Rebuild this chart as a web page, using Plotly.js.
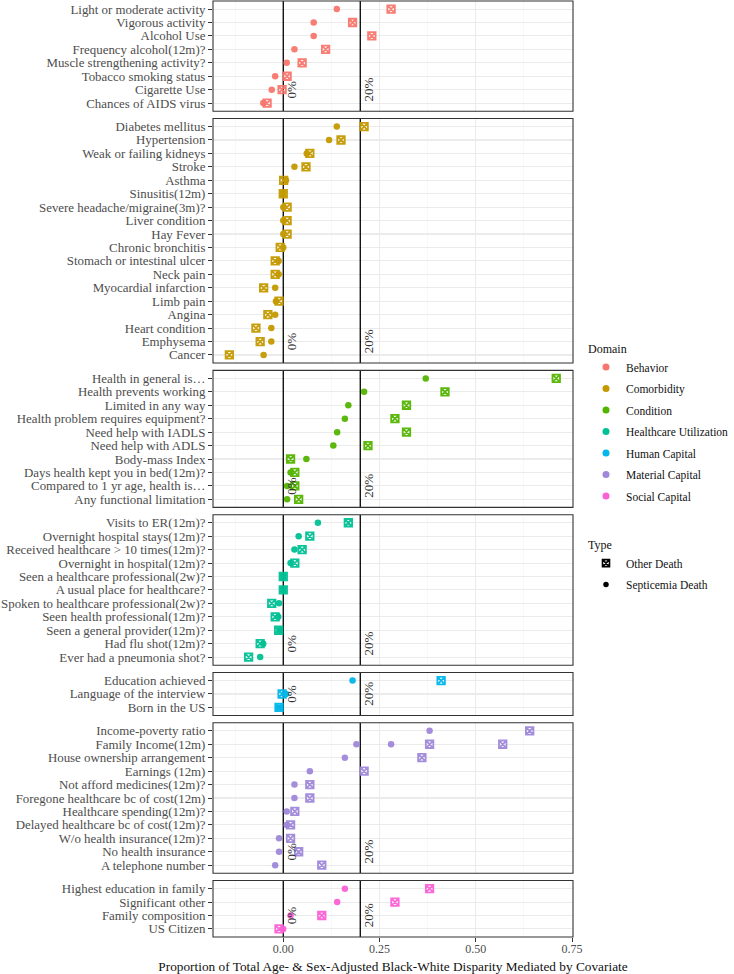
<!DOCTYPE html>
<html><head><meta charset="utf-8">
<script src="https://cdn.plot.ly/plotly-3.0.1.min.js"></script>
<style>html,body{margin:0;padding:0;background:#fff}</style>
</head><body><div id="chart" style="width:734px;height:974px"></div>
<script>
// ---------- data ----------
const domainNames = ['Behavior','Comorbidity','Condition','Healthcare Utilization','Human Capital','Material Capital','Social Capital'];
const domainColors = ['#F8766D','#C49A00','#53B400','#00C094','#00B6EB','#9F88DA','#FB61D7'];
const typeNames = ['Other Death','Septicemia Death'];
const refLines = [0, 0.2];
const refLabels = ['0%', '20%'];
const xTickVals = [0, 0.25, 0.5, 0.75];
const xTickText = ['0.00','0.25','0.50','0.75'];

const behaviorLabels = ['Light or moderate activity','Vigorous activity','Alcohol Use','Frequency alcohol(12m)?','Muscle strengthening activity?','Tobacco smoking status','Cigarette Use','Chances of AIDS virus'];
const behaviorOther = [0.280, 0.180, 0.230, 0.110, 0.049, 0.010, -0.003, -0.042];
const behaviorSepticemia = [0.139, 0.079, 0.079, 0.029, 0.009, -0.021, -0.030, -0.052];

const comorbidityLabels = ['Diabetes mellitus','Hypertension','Weak or failing kidneys','Stroke','Asthma','Sinusitis(12m)','Severe headache/migraine(3m)?','Liver condition','Hay Fever','Chronic bronchitis','Stomach or intestinal ulcer','Neck pain','Myocardial infarction','Limb pain','Angina','Heart condition','Emphysema','Cancer'];
const comorbidityOther = [0.210, 0.150, 0.069, 0.059, 0.001, 0.000, 0.010, 0.010, 0.010, -0.008, -0.021, -0.021, -0.051, -0.011, -0.040, -0.071, -0.060, -0.140];
const comorbiditySepticemia = [0.139, 0.119, 0.061, 0.029, 0.007, -0.001, 0.000, 0.000, 0.000, 0.000, -0.012, -0.012, -0.021, -0.019, -0.021, -0.031, -0.031, -0.051];

const conditionLabels = ['Health in general is…','Health prevents working','Limited in any way','Health problem requires equipment?','Need help with IADLS','Need help with ADLS','Body-mass Index','Days health kept you in bed(12m)?','Compared to 1 yr age, health is…','Any functional limitation'];
const conditionOther = [0.709, 0.420, 0.320, 0.290, 0.320, 0.220, 0.019, 0.030, 0.030, 0.040];
const conditionSepticemia = [0.370, 0.210, 0.169, 0.160, 0.140, 0.130, 0.060, 0.019, 0.010, 0.010];

const utilizationLabels = ['Visits to ER(12m)?','Overnight hospital stays(12m)?','Received healthcare > 10 times(12m)?','Overnight in hospital(12m)?','Seen a healthcare professional(2w)?','A usual place for healthcare?','Spoken to healthcare professional(2w)?','Seen health professional(12m)?','Seen a general provider(12m)?','Had flu shot(12m)?','Ever had a pneumonia shot?'];
const utilizationOther = [0.169, 0.069, 0.049, 0.030, 0.000, 0.000, -0.030, -0.021, -0.012, -0.060, -0.090];
const utilizationSepticemia = [0.090, 0.040, 0.029, 0.019, 0.000, 0.000, -0.011, -0.013, -0.010, -0.052, -0.060];

const humanLabels = ['Education achieved','Language of the interview','Born in the US'];
const humanOther = [0.410, -0.003, -0.011];
const humanSepticemia = [0.180, 0.007, -0.011];

const materialLabels = ['Income-poverty ratio','Family Income(12m)','Family Income(12m)','House ownership arrangement','Earnings (12m)','Not afford medicines(12m)?','Foregone healthcare bc of cost(12m)','Healthcare spending(12m)?','Delayed healthcare bc of cost(12m)?','W/o health insurance(12m)?','No health insurance','A telephone number'];
const materialOther = [0.640, 0.380, 0.570, 0.360, 0.210, 0.069, 0.069, 0.030, 0.019, 0.019, 0.040, 0.100];
const materialSepticemia = [0.380, 0.190, 0.280, 0.160, 0.069, 0.029, 0.029, 0.009, 0.009, -0.011, -0.011, -0.021];

const socialLabels = ['Highest education in family','Significant other','Family composition','US Citizen'];
const socialOther = [0.380, 0.290, 0.100, -0.011];
const socialSepticemia = [0.160, 0.140, 0.019, 0.000];

// ---------- build ----------
const panels = [
  [behaviorLabels, behaviorOther, behaviorSepticemia],
  [comorbidityLabels, comorbidityOther, comorbiditySepticemia],
  [conditionLabels, conditionOther, conditionSepticemia],
  [utilizationLabels, utilizationOther, utilizationSepticemia],
  [humanLabels, humanOther, humanSepticemia],
  [materialLabels, materialOther, materialSepticemia],
  [socialLabels, socialOther, socialSepticemia]
];

const FONT = 'Liberation Serif, Times New Roman, serif';
const W = 734, H = 974, mT = 1, mB = 37, mL = 213, mR = 161;
const plotH = H - mT - mB;
const gapPx = 7.3;
const uniq = panels.map(p => Array.from(new Set(p[0])));
const units = uniq.map(u => u.length + 0.2);
const totalUnits = units.reduce((a, b) => a + b, 0);
const unitPx = (plotH - gapPx * (panels.length - 1)) / totalUnits;

const traces = [];
const layout = {
  width: W, height: H,
  margin: {l: mL, r: mR, t: mT, b: mB},
  paper_bgcolor: '#ffffff', plot_bgcolor: '#ffffff',
  font: {family: FONT, color: '#222'},
  showlegend: true,
  shapes: [], annotations: [],
  xaxis: {
    domain: [0, 1], anchor: 'y7', range: [-0.1825, 0.7525],
    tickmode: 'array', tickvals: xTickVals, ticktext: xTickText,
    ticks: 'outside', ticklen: 3.7, tickcolor: '#333333', tickwidth: 1,
    ticklabelstandoff: -3,
    tickfont: {family: FONT, size: 12, color: '#4D4D4D'},
    showgrid: true, gridcolor: '#EBEBEB', gridwidth: 1.1,
    minor: {tickvals: [-0.125, 0.125, 0.375, 0.625], showgrid: true, gridcolor: '#F4F4F4', gridwidth: 0.6, ticks: ''},
    zeroline: false, showline: false, fixedrange: true,
    title: {text: 'Proportion of Total Age- & Sex-Adjusted Black-White Disparity Mediated by Covariate',
            font: {family: FONT, size: 13.3, color: '#111'}, standoff: 9}
  },
  legend: {
    xref: 'container', yref: 'container', x: 586 / W, y: 1 - 337 / H, xanchor: 'left', yanchor: 'top',
    title: {text: 'Domain', font: {family: FONT, size: 12, color: '#111'}},
    font: {family: FONT, size: 11.5, color: '#111'}, tracegroupgap: 2.5, bgcolor: 'rgba(0,0,0,0)', itemclick: false
  },
  legend2: {
    xref: 'container', yref: 'container', x: 586 / W, y: 1 - 533 / H, xanchor: 'left', yanchor: 'top',
    title: {text: 'Type', font: {family: FONT, size: 12, color: '#111'}},
    font: {family: FONT, size: 11.5, color: '#111'}, tracegroupgap: 2.5, bgcolor: 'rgba(0,0,0,0)', itemclick: false
  }
};

let cursorPx = 0; // from top of plot area
panels.forEach((p, i) => {
  const idx = i + 1;
  const ax = 'y' + (idx === 1 ? '' : idx);
  const axKey = 'yaxis' + (idx === 1 ? '' : idx);
  const hPx = units[i] * unitPx;
  const topFrac = 1 - cursorPx / plotH;
  const botFrac = 1 - (cursorPx + hPx) / plotH;
  cursorPx += hPx + gapPx;
  const cats = uniq[i];
  const n = cats.length;
  layout[axKey] = {
    domain: [Math.max(0, botFrac), Math.min(1, topFrac)], anchor: 'x',
    type: 'category', categoryorder: 'array', categoryarray: cats.slice().reverse(),
    range: [-0.6, n - 1 + 0.6],
    tickmode: 'array', tickvals: cats, ticktext: cats,
    ticks: 'outside', ticklen: 4, tickcolor: '#333333', tickwidth: 1,
    tickfont: {family: FONT, size: 12.9, color: '#4D4D4D'},
    showgrid: true, gridcolor: '#EBEBEB', gridwidth: 1.1,
    zeroline: false, showline: false, fixedrange: true
  };
  const col = domainColors[i];
  // septicemia (circles) first, then other death (square-x)
  traces.push({
    type: 'scatter', mode: 'markers', x: p[2], y: p[0], xaxis: 'x', yaxis: ax,
    marker: {symbol: 'circle', size: 6.5, color: col, opacity: 0.95},
    showlegend: false, hoverinfo: 'skip'
  });
  traces.push({
    type: 'scatter', mode: 'markers', x: p[1], y: p[0], xaxis: 'x', yaxis: ax,
    marker: {symbol: 'square-x-open', size: 7.5, color: col, opacity: 0.95, line: {width: 1.8, color: col}},
    showlegend: false, hoverinfo: 'skip'
  });
  // reference lines and labels (span the full panel: category range edges)
  const yr = layout[axKey].range;
  refLines.forEach((v, k) => {
    layout.shapes.push({type: 'line', xref: 'x', x0: v, x1: v, yref: ax, y0: yr[0], y1: yr[1],
      line: {color: '#000', width: 1.3}, layer: 'between'});
    layout.annotations.push({xref: 'x', yref: ax, x: v + 0.022, y: cats[n - 2],
      text: refLabels[k], textangle: -90, showarrow: false, xanchor: 'center', yanchor: 'middle',
      font: {family: FONT, size: 13, color: '#333'}});
  });
  // panel border
  layout.shapes.push({type: 'rect', xref: 'x domain', x0: 0, x1: 1, yref: ax + ' domain', y0: 0, y1: 1,
    line: {color: '#333333', width: 1.1}, fillcolor: 'rgba(0,0,0,0)', layer: 'above'});
});

// legend entries
domainNames.forEach((d, i) => {
  traces.push({type: 'scatter', mode: 'markers', x: [null], y: [null], xaxis: 'x', yaxis: 'y',
    name: d, legend: 'legend', legendgroup: 'd' + i,
    marker: {symbol: 'circle', size: 7, color: domainColors[i]}, hoverinfo: 'skip'});
});
typeNames.forEach((t, i) => {
  traces.push({type: 'scatter', mode: 'markers', x: [null], y: [null], xaxis: 'x', yaxis: 'y',
    name: t, legend: 'legend2', legendgroup: 't' + i,
    marker: i === 0 ? {symbol: 'square-x-open', size: 7, color: '#000', line: {width: 1.6, color: '#000'}}
                    : {symbol: 'circle', size: 5.5, color: '#000'}, hoverinfo: 'skip'});
});

Plotly.newPlot('chart', traces, layout, {staticPlot: true, displayModeBar: false});
</script></body></html>
